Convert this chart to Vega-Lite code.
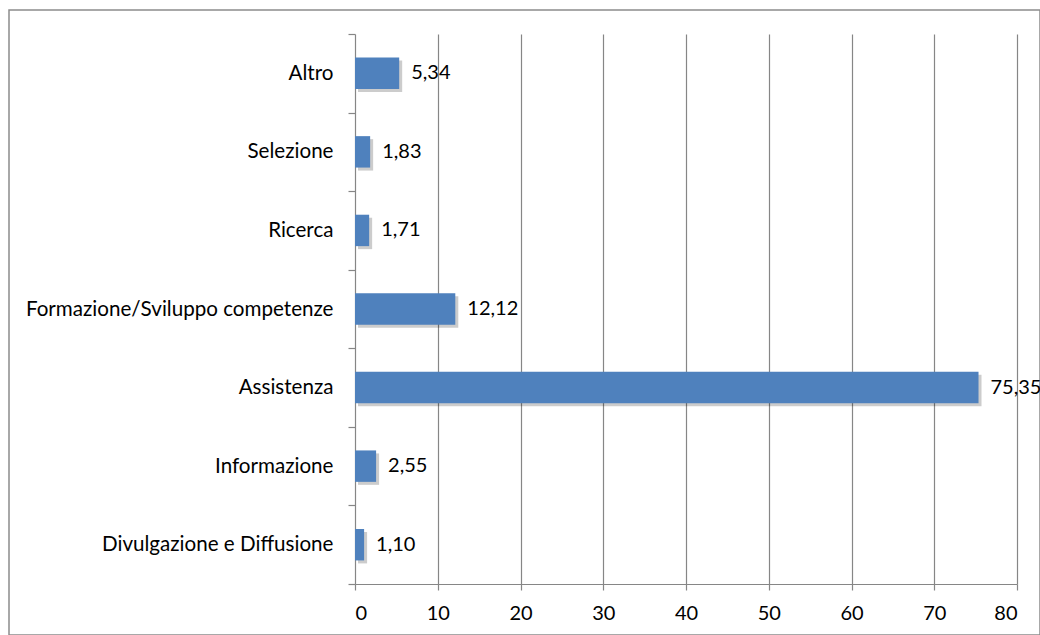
{
  "$schema": "https://vega.github.io/schema/vega-lite/v6.json",
  "width": 1031,
  "height": 625,
  "autosize": {"type": "none"},
  "padding": {"left": 9, "top": 10, "right": 0, "bottom": 0},
  "background": "white",
  "config": {
    "view": {"stroke": "#8c8c8c", "strokeWidth": 1.5},
    "font": "Lato",
    "axis": {"labelFont": "Lato", "labelColor": "#000000"}
  },
  "data": {
    "values": [
      {"categoria": "Altro", "valore": 5.34, "etichetta": "5,34"},
      {"categoria": "Selezione", "valore": 1.83, "etichetta": "1,83"},
      {"categoria": "Ricerca", "valore": 1.71, "etichetta": "1,71"},
      {"categoria": "Formazione/Sviluppo competenze", "valore": 12.12, "etichetta": "12,12"},
      {"categoria": "Assistenza", "valore": 75.35, "etichetta": "75,35"},
      {"categoria": "Informazione", "valore": 2.55, "etichetta": "2,55"},
      {"categoria": "Divulgazione e Diffusione", "valore": 1.10, "etichetta": "1,10"}
    ]
  },
  "encoding": {
    "y": {
      "field": "categoria",
      "type": "nominal",
      "sort": null,
      "scale": {"type": "band", "range": [24, 574], "paddingInner": 0, "paddingOuter": 0},
      "axis": {
        "title": null,
        "orient": "left",
        "offset": -346,
        "tickBand": "extent",
        "domainColor": "#868686",
        "domainWidth": 1.2,
        "tickColor": "#868686",
        "tickWidth": 1.2,
        "tickSize": 7,
        "labelPadding": 15,
        "labelFontSize": 20.6,
        "labelLimit": 0,
        "grid": false
      }
    },
    "x": {
      "field": "valore",
      "type": "quantitative",
      "scale": {"domain": [0, 80], "range": [346, 1008], "nice": false, "zero": true}
    }
  },
  "layer": [
    {
      "mark": {"type": "bar", "color": "#000000", "opacity": 0.2, "xOffset": 3, "yOffset": 3, "height": {"band": 0.4}},
      "encoding": {
        "x": {
          "field": "valore",
          "type": "quantitative",
          "axis": {
            "title": null,
            "orient": "bottom",
            "offset": -51,
            "values": [10, 20, 30, 40, 50, 60, 70, 80],
            "grid": false,
            "domain": false,
            "labels": false,
            "tickColor": "#868686",
            "tickWidth": 1.2,
            "tickSize": -550
          }
        }
      }
    },
    {
      "mark": {"type": "bar", "color": "#4F81BD", "height": {"band": 0.4}},
      "encoding": {
        "x": {
          "field": "valore",
          "type": "quantitative",
          "axis": {
            "title": null,
            "orient": "bottom",
            "offset": -51,
            "values": [0, 10, 20, 30, 40, 50, 60, 70, 80],
            "grid": false,
            "domainColor": "#868686",
            "domainWidth": 1.2,
            "tickColor": "#868686",
            "tickWidth": 1.2,
            "tickSize": 6,
            "labelPadding": 13,
            "labelFontSize": 20
          }
        }
      }
    },
    {
      "mark": {"type": "text", "align": "left", "baseline": "middle", "dx": 12, "fontSize": 20, "font": "Lato", "color": "#000000"},
      "encoding": {
        "x": {"field": "valore", "type": "quantitative", "axis": null},
        "text": {"field": "etichetta"}
      }
    }
  ],
  "resolve": {"axis": {"x": "independent"}}
}
